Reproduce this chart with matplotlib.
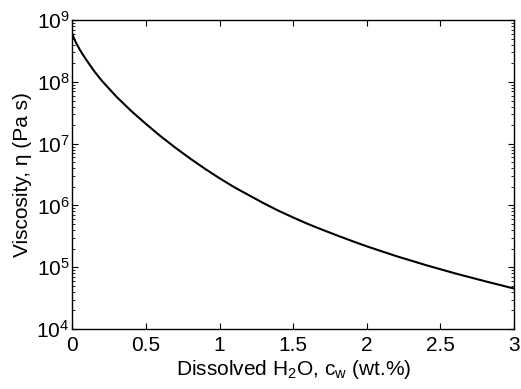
import numpy as np
import matplotlib
matplotlib.use("Agg")
from matplotlib import pyplot as plt
from matplotlib.ticker import LogLocator, NullFormatter

plt.rcParams['font.family'] = ['Liberation Sans', 'DejaVu Sans']
plt.rcParams['mathtext.default'] = 'regular'

# dissolved water (wt.%) and log10 viscosity (Pa s)
water = [0.0, 0.005, 0.01, 0.025, 0.05, 0.075, 0.1, 0.15, 0.2, 0.3, 0.4, 0.5,
         0.6, 0.7, 0.8, 0.9, 1.0, 1.1, 1.2, 1.3, 1.4, 1.5, 1.6, 1.7,
         1.8, 1.9, 2.0, 2.2, 2.4, 2.6, 2.8, 3.0]
log_visc = [8.78, 8.75, 8.715, 8.635, 8.525, 8.43, 8.34, 8.17, 8.02, 7.76, 7.53, 7.32,
            7.12, 6.935, 6.76, 6.595, 6.44, 6.295, 6.165, 6.035, 5.915, 5.805, 5.70, 5.605,
            5.513, 5.424, 5.338, 5.18, 5.035, 4.90, 4.775, 4.655]
xtick_vals = [0, 0.5, 1, 1.5, 2, 2.5, 3]
xtick_labels = ['0', '0.5', '1', '1.5', '2', '2.5', '3']

visc = 10 ** np.array(log_visc)

fig = plt.figure(figsize=(5.21, 3.89), dpi=100)
ax = fig.add_axes([0.1388, 0.1542, 0.848, 0.794])

ax.plot(water, visc, color='black', lw=1.5)
ax.set_yscale('log')
ax.set_xlim(0, 3)
ax.set_ylim(1e4, 1e9)

ax.set_xticks(xtick_vals)
ax.set_xticklabels(xtick_labels)
ax.yaxis.set_major_locator(LogLocator(base=10, numticks=10))
ax.yaxis.set_minor_locator(LogLocator(base=10, subs=np.arange(2, 10), numticks=10))
ax.yaxis.set_minor_formatter(NullFormatter())

ax.tick_params(which='both', direction='in', top=True, right=True, labelsize=15)
ax.tick_params(which='major', length=4, width=0.8)
ax.tick_params(which='minor', length=2, width=0.6)
ax.tick_params(axis='x', pad=5)
ax.tick_params(axis='y', pad=2)
for s in ax.spines.values():
    s.set_linewidth(1.0)

ax.set_xlabel('Dissolved H$_2$O, c$_w$ (wt.%)', fontsize=15, labelpad=2)
ax.set_ylabel('Viscosity, η (Pa s)', fontsize=15, labelpad=3)

fig.savefig('out.png', dpi=100)
